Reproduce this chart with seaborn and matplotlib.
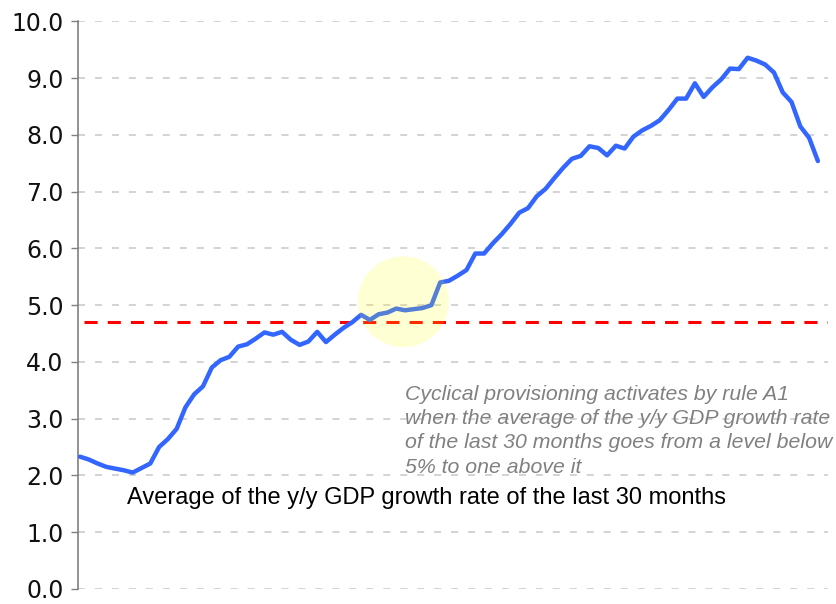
import numpy as np
import pandas as pd
import matplotlib
matplotlib.use("Agg")
import matplotlib.pyplot as plt
from matplotlib.patches import Ellipse
import seaborn as sns

# Average of the y/y GDP growth rate of the last 30 months (monthly points)
avg_growth = [
    2.33, 2.28, 2.21, 2.15, 2.12, 2.09, 2.05, 2.13, 2.21, 2.50,
    2.64, 2.82, 3.20, 3.43, 3.57, 3.90, 4.03, 4.09, 4.27, 4.31,
    4.41, 4.52, 4.48, 4.53, 4.39, 4.30, 4.36, 4.53, 4.35, 4.48,
    4.60, 4.70, 4.83, 4.74, 4.84, 4.87, 4.94, 4.91, 4.93, 4.95,
    5.00, 5.40, 5.43, 5.52, 5.62, 5.91, 5.91, 6.09, 6.25, 6.43,
    6.63, 6.71, 6.92, 7.05, 7.24, 7.42, 7.58, 7.63, 7.80, 7.77,
    7.64, 7.81, 7.76, 7.97, 8.08, 8.16, 8.26, 8.44, 8.64, 8.64,
    8.91, 8.67, 8.84, 8.98, 9.17, 9.16, 9.36, 9.31, 9.24, 9.10,
    8.75, 8.58, 8.15, 7.95, 7.54,
]
threshold = 4.7
y_ticks = [0, 1, 2, 3, 4, 5, 6, 7, 8, 9, 10]

df = pd.DataFrame({"month": np.arange(len(avg_growth)), "growth": avg_growth})

sns.set_style("white")
plt.rcParams["font.family"] = ["DejaVu Sans"]

fig = plt.figure(figsize=(8.36, 6.04), dpi=100)
ax = fig.add_axes([0.0933, 0.025, 0.897, 0.9395])

# Grid
for t in y_ticks:
    ax.axhline(t, color="#c8c8c8", lw=1.1, dashes=(4.6, 6.5), zorder=0)

# Threshold line
ax.hlines(threshold, 0.4, len(avg_growth) + 1, color="#ff0000", lw=2.2,
          linestyles=(0, (4.3, 3.3)), zorder=2)

# Main series
sns.lineplot(data=df, x="month", y="growth", color="#3366ff", lw=3.2, ax=ax, zorder=3)

# Highlight circle
ax.add_patch(Ellipse((36.8, 5.06), 10.36, 1.6, facecolor="#ffff00",
                     alpha=0.17, edgecolor="none", zorder=4))

ax.set_xlim(-0.23, 85.14)
ax.set_ylim(0, 10)
ax.set_yticks(y_ticks)
ax.set_yticklabels([f"{t:.1f}" for t in y_ticks], fontsize=17, color="#111111")
ax.set_xticks([])
ax.set_xlabel("")
ax.set_ylabel("")

for side in ["top", "right", "bottom"]:
    ax.spines[side].set_visible(False)
ax.spines["left"].set_color("#808080")
ax.spines["left"].set_linewidth(1.2)
ax.tick_params(axis="y", direction="out", length=5.4, width=1.0, color="#808080", pad=5, left=True)

ax.text(5.35, 1.61, "Average of the y/y GDP growth rate of the last 30 months",
        fontsize=17, family="Liberation Sans", color="black", va="center", ha="left")

ax.text(37.0, 3.60,
        "Cyclical provisioning activates by rule A1\n"
        "when the average of the y/y GDP growth rate\n"
        "of the last 30 months goes from a level below\n"
        "5% to one above it",
        fontsize=15.3, family="Liberation Sans", style="italic", color="#808080",
        va="top", ha="left", linespacing=1.36)

fig.savefig("out.png", dpi=100)
